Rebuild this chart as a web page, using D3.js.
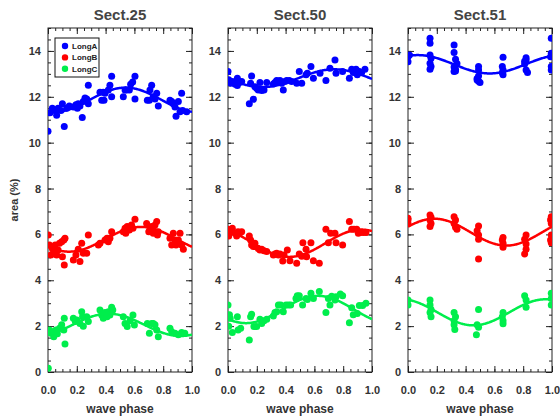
<!DOCTYPE html>
<html>
<head>
<meta charset="utf-8">
<script src="https://cdn.jsdelivr.net/npm/d3@7"></script>
<style>
body { margin: 0; background: #fff; }
svg { font-family: "Liberation Sans", Arial, sans-serif; }
</style>
</head>
<body>
<svg id="svg" width="560" height="418"></svg>
<script>
// panel titles and series names
const sections = ["Sect.25", "Sect.50", "Sect.51"];
const seriesNames = ["LongA", "LongB", "LongC"];
const seriesColors = ["#0000ff", "#ff0000", "#00ee4c"];
const xTicks = [0, 0.2, 0.4, 0.6, 0.8, 1.0];
const yTicks = [0, 2, 4, 6, 8, 10, 12, 14];

// [wave phase, area %]
const s25LongA = [[0.00,10.5],[0.014,11.3],[0.03,11.5],[0.05,11.4],[0.06,11.2],[0.07,11.5],[0.09,11.4],[0.10,11.7],[0.113,10.7],[0.13,11.5],[0.148,11.6],[0.176,11.55],[0.194,11.65],[0.204,11.5],[0.21,11.7],[0.222,11.6],[0.238,11.1],[0.245,11.8],[0.257,11.95],[0.269,11.9],[0.28,12.5],[0.28,11.7],[0.361,12.2],[0.373,11.85],[0.384,12.2],[0.389,11.85],[0.396,12.15],[0.419,12.3],[0.43,12.5],[0.442,12.9],[0.442,12.0],[0.523,12.0],[0.535,12.3],[0.546,12.3],[0.565,12.3],[0.574,12.55],[0.588,12.65],[0.604,12.9],[0.604,11.9],[0.69,11.85],[0.704,11.85],[0.708,12.3],[0.72,12.5],[0.731,12.0],[0.743,11.9],[0.755,12.15],[0.766,11.6],[0.847,11.85],[0.859,11.8],[0.87,11.7],[0.882,11.55],[0.889,11.15],[0.905,11.8],[0.917,11.35],[0.928,12.15],[0.935,11.4],[0.963,11.35]];
const s25LongB = [[0.002,5.97],[0.01,5.54],[0.02,5.10],[0.03,5.39],[0.04,5.25],[0.05,5.54],[0.06,5.10],[0.07,5.32],[0.08,5.61],[0.095,5.68],[0.10,5.03],[0.11,5.76],[0.113,4.67],[0.118,5.83],[0.176,4.88],[0.194,5.10],[0.21,5.35],[0.222,4.82],[0.234,5.61],[0.245,5.18],[0.269,5.18],[0.28,5.97],[0.35,5.54],[0.361,5.61],[0.396,5.76],[0.41,5.83],[0.419,5.68],[0.43,5.83],[0.442,6.12],[0.523,6.12],[0.535,6.27],[0.54,6.05],[0.55,6.34],[0.565,6.19],[0.58,6.41],[0.59,6.27],[0.604,6.66],[0.685,6.48],[0.70,6.12],[0.708,6.23],[0.72,6.34],[0.731,6.05],[0.743,6.41],[0.755,6.56],[0.76,5.97],[0.766,6.12],[0.847,5.83],[0.859,5.54],[0.87,6.05],[0.882,5.76],[0.889,5.54],[0.905,5.76],[0.917,6.05],[0.928,5.54],[0.94,5.35]];
const s25LongC = [[0.002,0.16],[0.01,1.83],[0.02,1.69],[0.03,1.76],[0.04,1.54],[0.055,1.83],[0.065,1.67],[0.08,1.91],[0.095,2.06],[0.11,1.83],[0.113,2.34],[0.118,1.22],[0.176,2.34],[0.19,2.20],[0.20,2.27],[0.222,2.12],[0.234,2.63],[0.24,2.41],[0.245,2.00],[0.269,2.41],[0.28,2.20],[0.361,2.70],[0.373,2.49],[0.384,2.34],[0.396,2.59],[0.41,2.41],[0.419,2.63],[0.43,2.49],[0.442,2.82],[0.45,2.7],[0.523,2.41],[0.535,2.12],[0.55,1.98],[0.57,2.24],[0.59,2.49],[0.60,2.05],[0.69,2.12],[0.704,1.69],[0.72,2.12],[0.731,2.12],[0.743,2.06],[0.755,1.83],[0.766,1.54],[0.847,1.91],[0.859,1.76],[0.882,1.69],[0.905,1.62],[0.928,1.72],[0.95,1.69]];

const s50LongA = [[0.0,13.10],[0.005,12.74],[0.02,12.59],[0.03,12.67],[0.05,12.55],[0.065,12.81],[0.065,12.49],[0.08,12.62],[0.095,12.67],[0.148,11.70],[0.157,12.59],[0.164,12.91],[0.176,11.89],[0.187,12.44],[0.199,12.37],[0.21,12.30],[0.222,12.62],[0.234,12.27],[0.25,12.30],[0.269,12.62],[0.315,12.56],[0.326,12.62],[0.338,12.71],[0.35,12.62],[0.361,12.71],[0.373,12.59],[0.384,12.30],[0.396,12.67],[0.407,12.71],[0.426,12.71],[0.442,12.67],[0.477,12.59],[0.495,13.10],[0.512,12.59],[0.542,12.96],[0.551,13.03],[0.576,13.32],[0.593,12.81],[0.639,13.03],[0.68,12.71],[0.708,13.25],[0.743,13.61],[0.75,13.03],[0.796,13.10],[0.843,12.81],[0.859,13.20],[0.87,13.06],[0.889,13.20],[0.898,12.96],[0.912,13.10],[0.928,13.06],[0.951,13.20]];
const s50LongB = [[0.0,6.22],[0.005,5.93],[0.015,6.12],[0.03,6.27],[0.05,6.05],[0.06,5.93],[0.07,6.12],[0.08,6.05],[0.095,6.12],[0.148,5.93],[0.157,5.76],[0.164,5.54],[0.176,5.47],[0.187,5.61],[0.21,5.39],[0.222,5.32],[0.234,5.35],[0.25,5.29],[0.269,5.25],[0.315,5.10],[0.326,5.14],[0.338,5.18],[0.35,5.10],[0.361,5.14],[0.38,4.84],[0.389,5.10],[0.412,5.32],[0.43,4.85],[0.477,4.74],[0.495,5.14],[0.512,5.05],[0.52,5.64],[0.542,5.35],[0.546,5.03],[0.576,5.64],[0.593,4.85],[0.634,4.74],[0.68,6.22],[0.697,5.64],[0.713,6.05],[0.743,6.05],[0.75,5.64],[0.796,5.54],[0.843,6.56],[0.859,6.22],[0.875,6.22],[0.894,6.22],[0.905,6.05],[0.921,6.08],[0.94,6.08],[0.958,6.08]];
const s50LongC = [[0.0,2.92],[0.005,2.0],[0.015,2.34],[0.01,2.5],[0.03,1.72],[0.065,2.41],[0.07,1.83],[0.088,1.91],[0.148,1.40],[0.157,2.41],[0.164,2.52],[0.18,1.98],[0.199,1.98],[0.222,2.30],[0.234,2.12],[0.25,2.24],[0.269,2.30],[0.315,2.44],[0.326,2.59],[0.338,2.63],[0.35,2.92],[0.366,2.92],[0.384,2.63],[0.403,2.92],[0.42,2.92],[0.435,2.92],[0.472,3.21],[0.481,3.32],[0.495,3.32],[0.518,2.92],[0.542,3.21],[0.551,3.16],[0.576,3.43],[0.593,3.21],[0.634,3.51],[0.68,2.59],[0.697,3.21],[0.708,2.92],[0.72,3.3],[0.743,3.14],[0.75,3.28],[0.78,3.4],[0.796,3.32],[0.843,2.15],[0.859,2.8],[0.87,2.5],[0.898,2.55],[0.912,2.9],[0.935,2.9],[0.958,3.0]];

const s51LongA = [[0.0,13.53],[0.01,13.82],[0.0,13.75],[0.153,14.55],[0.153,14.33],[0.153,13.82],[0.16,13.68],[0.153,13.46],[0.16,13.32],[0.153,13.2],[0.32,14.26],[0.32,13.93],[0.33,13.64],[0.34,13.45],[0.32,13.3],[0.33,13.2],[0.32,13.1],[0.33,13.12],[0.49,13.32],[0.49,13.17],[0.49,12.91],[0.48,12.73],[0.50,12.62],[0.49,12.68],[0.48,12.8],[0.66,13.72],[0.655,13.32],[0.66,13.17],[0.66,12.96],[0.655,13.05],[0.82,13.61],[0.81,13.43],[0.82,13.17],[0.83,13.06],[0.82,13.7],[0.81,13.55],[0.995,14.55],[0.99,13.75],[0.995,13.9],[0.995,13.32],[0.995,13.17]];
const s51LongB = [[0.0,6.63],[0.0,6.48],[0.0,6.7],[0.153,6.85],[0.16,6.75],[0.153,6.63],[0.16,6.48],[0.153,6.34],[0.32,6.77],[0.33,6.63],[0.32,6.48],[0.33,6.31],[0.34,6.22],[0.49,6.37],[0.48,6.16],[0.49,5.97],[0.49,5.79],[0.49,4.93],[0.66,5.87],[0.655,5.76],[0.66,5.61],[0.66,5.44],[0.82,5.97],[0.81,5.79],[0.82,5.58],[0.82,5.35],[0.81,5.15],[0.995,6.77],[0.99,6.63],[0.995,6.48],[0.995,6.7],[0.995,5.97],[0.99,5.76],[0.995,5.64]];
const s51LongC = [[0.0,3.14],[0.0,2.92],[0.153,3.14],[0.153,2.92],[0.16,2.73],[0.153,2.59],[0.16,2.41],[0.32,2.59],[0.33,2.41],[0.32,2.24],[0.32,2.06],[0.325,1.85],[0.49,2.73],[0.48,2.06],[0.49,1.95],[0.475,1.62],[0.66,2.59],[0.655,2.41],[0.66,2.24],[0.66,2.10],[0.81,3.32],[0.82,3.14],[0.82,2.82],[0.995,3.43],[0.995,3.21],[0.995,2.92]];

const panelData = [
  [s25LongA, s25LongB, s25LongC],
  [s50LongA, s50LongB, s50LongC],
  [s51LongA, s51LongB, s51LongC]
];

// least squares fit of a + b*cos(2πx) + c*sin(2πx)
function fitSine(pts){
  const M = [[0,0,0],[0,0,0],[0,0,0]], v = [0,0,0];
  pts.forEach(p => {
    const f = [1, Math.cos(2*Math.PI*p[0]), Math.sin(2*Math.PI*p[0])];
    for(let i = 0; i < 3; i++){
      v[i] += f[i]*p[1];
      for(let j = 0; j < 3; j++) M[i][j] += f[i]*f[j];
    }
  });
  for(let i = 0; i < 3; i++){
    for(let k = i+1; k < 3; k++){
      const r = M[k][i]/M[i][i];
      for(let j = i; j < 3; j++) M[k][j] -= r*M[i][j];
      v[k] -= r*v[i];
    }
  }
  const c = [0,0,0];
  for(let i = 2; i >= 0; i--){
    let s = v[i];
    for(let j = i+1; j < 3; j++) s -= M[i][j]*c[j];
    c[i] = s/M[i][i];
  }
  return x => c[0] + c[1]*Math.cos(2*Math.PI*x) + c[2]*Math.sin(2*Math.PI*x);
}

const svg = d3.select("#svg");
const panelLeft = [48, 228, 408];
const panelW = 144;
const plotTop = 28, plotBottom = 372;

const yScale = d3.scaleLinear().domain([0, 15]).range([plotBottom, plotTop]);
const xScale = d3.scaleLinear().domain([0, 1]).range([0, panelW]);

svg.append("text")
  .attr("transform", "translate(18," + (plotTop + plotBottom)/2 + ") rotate(-90)")
  .attr("text-anchor", "middle")
  .attr("font-size", 11).attr("font-weight", "bold").attr("fill", "#333")
  .text("area (%)");

sections.forEach((name, pi) => {
  const g = svg.append("g").attr("transform", "translate(" + panelLeft[pi] + ",0)");

  g.append("clipPath").attr("id", "clip" + pi)
    .append("rect").attr("x", 0).attr("y", plotTop).attr("width", panelW).attr("height", plotBottom - plotTop);

  g.append("text")
    .attr("x", panelW/2).attr("y", 20)
    .attr("text-anchor", "middle")
    .attr("font-size", 15).attr("font-weight", "bold").attr("fill", "#444")
    .text(name);

  // axes, ticks inward
  const minorX = d3.range(0, 1.0001, 0.05);
  const minorY = d3.range(0, 15.0001, 0.5);

  g.append("g").attr("transform", "translate(0," + plotBottom + ")")
    .call(d3.axisBottom(xScale).tickValues(minorX).tickSize(-3).tickFormat(""));
  const xa = g.append("g").attr("transform", "translate(0," + plotBottom + ")")
    .call(d3.axisBottom(xScale).tickValues(xTicks).tickSize(-6).tickPadding(14).tickFormat(d3.format(".1f")));
  g.append("g").attr("transform", "translate(0," + plotTop + ")")
    .call(d3.axisTop(xScale).tickValues(minorX).tickSize(-3).tickFormat(""));
  g.append("g").attr("transform", "translate(0," + plotTop + ")")
    .call(d3.axisTop(xScale).tickValues(xTicks).tickSize(-6).tickFormat(""));

  g.append("g").call(d3.axisLeft(yScale).tickValues(minorY).tickSize(-3).tickFormat(""));
  const ya = g.append("g")
    .call(d3.axisLeft(yScale).tickValues(yTicks).tickSize(-6).tickPadding(7));
  g.append("g").attr("transform", "translate(" + panelW + ",0)")
    .call(d3.axisRight(yScale).tickValues(minorY).tickSize(-3).tickFormat(""));
  g.append("g").attr("transform", "translate(" + panelW + ",0)")
    .call(d3.axisRight(yScale).tickValues(yTicks).tickSize(-6).tickFormat(""));

  g.selectAll(".domain").remove();
  g.selectAll(".tick line").attr("stroke", "#222");
  [xa, ya].forEach(a => a.selectAll("text")
    .attr("font-size", 11).attr("font-weight", "bold").attr("fill", "#333")
    .attr("font-family", "Liberation Sans, Arial, sans-serif"));

  g.append("rect")
    .attr("x", 0).attr("y", plotTop).attr("width", panelW).attr("height", plotBottom - plotTop)
    .attr("fill", "none").attr("stroke", "#222").attr("stroke-width", 1);

  g.append("text")
    .attr("x", panelW/2).attr("y", 413)
    .attr("text-anchor", "middle")
    .attr("font-size", 12).attr("font-weight", "bold").attr("fill", "#333")
    .text("wave phase");

  const plot = g.append("g").attr("clip-path", "url(#clip" + pi + ")");
  panelData[pi].forEach((series, si) => {
    plot.selectAll(".pt" + si)
      .data(series)
      .enter()
      .append("circle")
      .attr("class", "pt" + si)
      .attr("cx", d => xScale(d[0]))
      .attr("cy", d => yScale(d[1]))
      .attr("r", 3.5)
      .attr("fill", seriesColors[si]);

    const f = fitSine(series);
    const xs = d3.range(0, 1.0001, 0.005);
    plot.append("path")
      .datum(xs)
      .attr("fill", "none")
      .attr("stroke", seriesColors[si])
      .attr("stroke-width", 2.5)
      .attr("d", d3.line().x(d => xScale(d)).y(d => yScale(f(d))));
  });

  if(pi === 0){
    const lg = g.append("g").attr("transform", "translate(7,38)");
    lg.append("rect").attr("width", 44).attr("height", 39)
      .attr("fill", "#fff").attr("stroke", "#111").attr("stroke-width", 1);
    seriesNames.forEach((s, i) => {
      lg.append("circle").attr("cx", 10).attr("cy", 8 + i*11.4).attr("r", 3.2)
        .attr("fill", seriesColors[i]);
      lg.append("text").attr("x", 17).attr("y", 11 + i*11.4)
        .attr("font-size", 8).attr("font-weight", "bold").attr("fill", "#222")
        .text(s);
    });
  }
});
</script>
</body>
</html>
